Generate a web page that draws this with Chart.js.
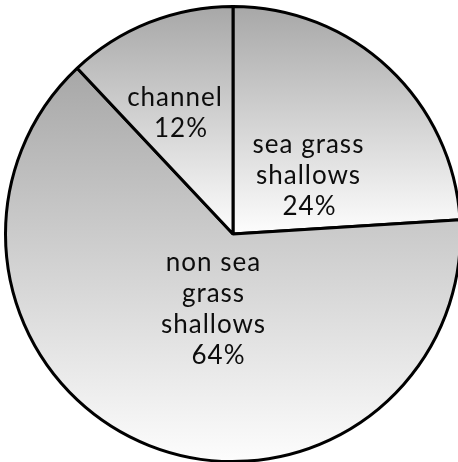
<!DOCTYPE html>
<html>
<head>
<meta charset="utf-8">
<script src="https://cdn.jsdelivr.net/npm/chart.js@4.4.1/dist/chart.umd.min.js"></script>
<style>
  html, body { margin: 0; padding: 0; background: #fff; overflow: hidden; }
  #wrap { position: absolute; left: 0; top: 0; width: 466px; height: 466px; }
</style>
</head>
<body>
<div id="wrap"><canvas id="myChart" width="466" height="466"></canvas></div>
<script>
// slice names, split into label lines
const labels = [
    ['sea grass', 'shallows'],
    ['non sea', 'grass', 'shallows'],
    ['channel']
];
const values = [24, 64, 12];

// where each label sits: fraction of radius, angle shift in degrees, x nudge for the % line
const labelSpots = [
    { r: 0.42, shift: 9, pctDx: 1 },
    { r: 0.34, shift: -7, pctDx: 5 },
    { r: 0.59, shift: -4, pctDx: 6 }
];

// grey-to-white fill, top to bottom of every slice
function sliceFill(ctx) {
    const chart = ctx.chart;
    const area = chart.chartArea;
    if (!area) return '#cccccc';
    const cx = (area.left + area.right) / 2;
    const cy = (area.top + area.bottom) / 2;
    const r = Math.min(area.width, area.height) / 2;
    const total = values.reduce((a, b) => a + b, 0);
    let start = -Math.PI / 2;
    for (let i = 0; i < ctx.dataIndex; i++) start += values[i] / total * Math.PI * 2;
    const end = start + values[ctx.dataIndex] / total * Math.PI * 2;
    let top = cy, bottom = cy;
    for (let a = start; a <= end; a += 0.01) {
        const py = cy + Math.sin(a) * r;
        top = Math.min(top, py);
        bottom = Math.max(bottom, py);
    }
    const g = chart.ctx.createLinearGradient(0, top, 0, bottom);
    g.addColorStop(0, '#a7a7a7');
    g.addColorStop(1, '#fdfdfd');
    return g;
}

const sliceLabels = {
    id: 'sliceLabels',
    afterDatasetsDraw(chart) {
        const c = chart.ctx;
        const meta = chart.getDatasetMeta(0);
        c.save();
        c.fillStyle = '#0d0d0d';
        c.font = '26px Lato, sans-serif';
        c.letterSpacing = '1px';
        c.textAlign = 'center';
        c.textBaseline = 'middle';
        meta.data.forEach((arc, i) => {
            const p = arc.getProps(['x', 'y', 'startAngle', 'endAngle', 'outerRadius'], true);
            const spot = labelSpots[i];
            const mid = (p.startAngle + p.endAngle) / 2 + spot.shift * Math.PI / 180;
            const lx = p.x + Math.cos(mid) * p.outerRadius * spot.r;
            const ly = p.y + Math.sin(mid) * p.outerRadius * spot.r;
            const lines = labels[i].concat([values[i] + '%']);
            const lh = 31;
            const y0 = ly - (lines.length - 1) * lh / 2;
            lines.forEach((t, k) => {
                const dx = k === lines.length - 1 ? spot.pctDx : 0;
                c.fillText(t, lx + dx, y0 + k * lh);
            });
        });
        c.restore();
    }
};

const config = {
    type: 'pie',
    data: {
        labels: labels.map(l => l.join(' ')),
        datasets: [{
            data: values,
            backgroundColor: sliceFill,
            borderColor: '#000',
            borderWidth: 3
        }]
    },
    options: {
        responsive: false,
        animation: false,
        layout: { padding: { left: 4, right: 4, top: 5, bottom: 3 } },
        plugins: {
            legend: { display: false },
            tooltip: { enabled: false }
        }
    },
    plugins: [sliceLabels]
};

const myChart = new Chart(document.getElementById('myChart'), config);
</script>
</body>
</html>
